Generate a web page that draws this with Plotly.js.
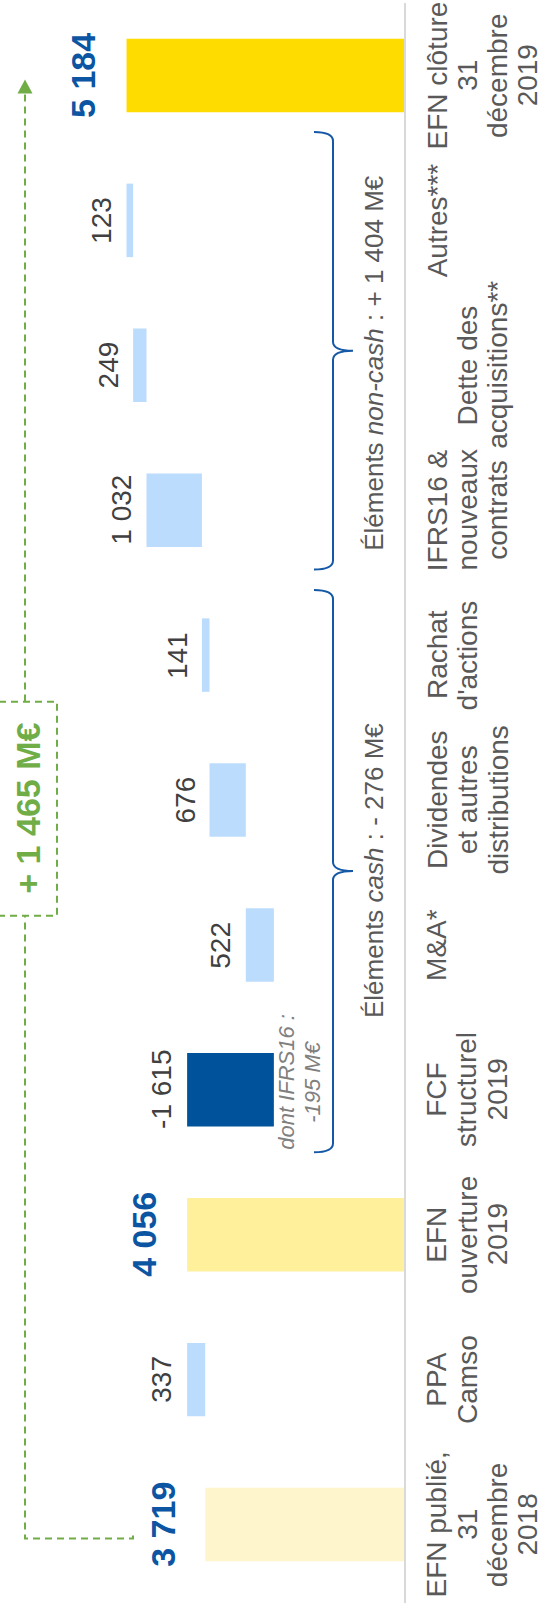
<!DOCTYPE html>
<html>
<head>
<meta charset="utf-8">
<script src="https://cdn.plot.ly/plotly-3.0.1.min.js"></script>
<style>
  html, body { margin: 0; padding: 0; background: #ffffff; }
  #chart { width: 544px; height: 1603px; }
</style>
</head>
<body>
<div id="chart"></div>
<script>
// Bridge of net financial debt (EFN), M€ — categories listed bottom to top,
// one entry per printed line of the category label
const categoryLines = [
  ['EFN publié,', '31', 'décembre', '2018'],
  ['PPA', 'Camso'],
  ['EFN', 'ouverture', '2019'],
  ['FCF', 'structurel', '2019'],
  ['M&A*'],
  ['Dividendes', 'et autres', 'distributions'],
  ['Rachat', "d'actions"],
  ['IFRS16 &', 'nouveaux', 'contrats'],
  ['', 'Dette des', 'acquisitions**'],
  ['Autres***'],
  ['EFN clôture', '31', 'décembre', '2019']
];
const values  = [3719, 337, 4056, -1615, 522, 676, 141, 1032, 249, 123, 5184];
const isTotal = [true, false, true, false, false, false, false, false, false, false, true];
const barColors = ['#fff5cc', '#bcdcfd', '#fff09c', '#00529b', '#bcdcfd', '#bcdcfd',
                   '#bcdcfd', '#bcdcfd', '#bcdcfd', '#bcdcfd', '#ffdc00'];
// Groups bracketed on the chart (indices into the categories)
const cashGroup    = [3, 4, 5, 6];
const nonCashGroup = [7, 8, 9];
const fcfNote = ['dont IFRS16 :', '-195 M€'];

// ---- geometry ----
const PLOT_W = 405;                 // pixel position of the baseline
const PLOT_H = 1594;
const N = values.length;
const PX_PER_CAT = PLOT_H / N;
const px = v => v / PLOT_W;         // pixel -> paper x
const dy = p => p / PX_PER_CAT;     // pixel -> category units

const FONT = 'Liberation Sans, Arial, sans-serif';
const GREEN = '#70ad47';
const BRACE_BLUE = '#1559a6';

function fmt(n, signed) {
  const s = Math.abs(n).toString().replace(/\B(?=(\d{3})+(?!\d))/g, ' ');
  if (n < 0) return (signed ? '- ' : '-') + s;
  return (signed ? '+ ' : '') + s;
}

// Running level for the floating bars
const idx = values.map((_, i) => i);
const bases = [], lengths = [], labelAt = [];
let level = 0;
values.forEach((v, i) => {
  let start, end;
  if (isTotal[i]) { start = 0; end = v; }
  else { start = level; end = level + v; }
  level = end;
  bases.push(Math.min(start, end));
  lengths.push(Math.abs(end - start));
  labelAt.push(Math.max(start, end));
});

const trace = {
  type: 'bar',
  orientation: 'h',
  y: idx,
  x: lengths,
  base: bases,
  width: 0.507,
  marker: { color: barColors, line: { width: 0 } },
  hoverinfo: 'skip'
};

const annotations = [];
const shapes = [];

// value labels
values.forEach((v, i) => {
  annotations.push({
    xref: 'x', yref: 'y', x: labelAt[i], y: i,
    text: isTotal[i] ? '<b>' + fmt(v) + '</b>' : fmt(v),
    textangle: -90, showarrow: false,
    xanchor: 'center', yanchor: 'middle',
    xshift: isTotal[i] ? -43 : -25,
    font: { family: FONT, size: isTotal[i] ? 34 : 28, color: isTotal[i] ? '#0b55a3' : '#404040' }
  });
});

// category labels, one annotation per line
categoryLines.forEach((lines, i) => {
  lines.forEach((t, k) => {
    if (!t) return;
    annotations.push({
      xref: 'paper', yref: 'y', x: 1, y: i,
      text: t, textangle: -90, showarrow: false,
      xanchor: 'center', yanchor: 'middle', borderpad: 0,
      xshift: 32 + 30.3 * k,
      font: { family: FONT, size: 28, color: '#595959' }
    });
  });
});

// baseline
shapes.push({
  type: 'line', xref: 'paper', yref: 'paper',
  x0: 1, x1: 1, y0: -0.006, y1: 1,
  line: { color: '#d9d9d9', width: 2 }
});

// curly braces over the cash / non-cash groups
function bracePath(lo, hi) {
  const xa = px(314), xv = px(333), xt = px(353);
  const r = dy(9);
  const mid = (lo + hi) / 2;
  return `M ${xa},${hi} Q ${xv},${hi} ${xv},${hi - r} L ${xv},${mid + r} ` +
         `Q ${xv},${mid} ${xt},${mid} Q ${xv},${mid} ${xv},${mid - r} ` +
         `L ${xv},${lo + r} Q ${xv},${lo} ${xa},${lo}`;
}
const sum = arr => arr.reduce((a, i) => a + values[i], 0);
const groups = [
  { members: cashGroup,    lo: cashGroup[0] - 0.43,    hi: cashGroup[cashGroup.length - 1] + 0.45,
    label: 'Éléments <i>cash</i> : ', textShift: 0 },
  { members: nonCashGroup, lo: nonCashGroup[0] - 0.41, hi: nonCashGroup[nonCashGroup.length - 1] + 0.61,
    label: 'Éléments <i>non-cash</i> : ', textShift: -12 }
];
groups.forEach(g => {
  shapes.push({
    type: 'path', xref: 'paper', yref: 'y', path: bracePath(g.lo, g.hi),
    line: { color: BRACE_BLUE, width: 2 }
  });
  annotations.push({
    xref: 'paper', yref: 'y', x: px(374), y: (g.lo + g.hi) / 2, yshift: g.textShift,
    text: g.label + fmt(sum(g.members), true) + ' M€',
    textangle: -90, showarrow: false, xanchor: 'center', yanchor: 'middle',
    font: { family: FONT, size: 26, color: '#595959' }
  });
});

// note under the FCF bar
fcfNote.forEach((t, k) => {
  annotations.push({
    xref: 'paper', yref: 'y', x: px(287 + 26 * k), y: 3, yshift: 8,
    text: '<i>' + t + '</i>', textangle: -90, showarrow: false,
    xanchor: 'center', yanchor: 'middle',
    font: { family: FONT, size: 22, color: '#808080' }
  });
});

// overall change arrow, opening to closing
const first = 0, last = N - 1;
const tip = last - dy(4);
const arrowBase = tip - dy(14);
shapes.push({
  type: 'path', xref: 'paper', yref: 'y',
  path: `M ${px(133)},${first - dy(11)} L ${px(133)},${first - dy(14)} L ${px(25)},${first - dy(14)} L ${px(25)},${arrowBase}`,
  line: { color: GREEN, width: 2, dash: '7px,5px' }
});
shapes.push({
  type: 'path', xref: 'paper', yref: 'y',
  path: `M ${px(17.5)},${arrowBase} L ${px(32.5)},${arrowBase} L ${px(25)},${tip} Z`,
  fillcolor: GREEN, line: { width: 0 }
});
const boxMid = 4.94, boxHalf = dy(107);
shapes.push({
  type: 'rect', xref: 'paper', yref: 'y',
  x0: px(-2), x1: px(57), y0: boxMid - boxHalf, y1: boxMid + boxHalf,
  fillcolor: '#ffffff', line: { color: GREEN, width: 2, dash: '7px,5px' }
});
annotations.push({
  xref: 'paper', yref: 'y', x: px(28), y: boxMid,
  text: '<b>' + fmt(values[last] - values[first], true) + ' M€</b>',
  textangle: -90, showarrow: false, xanchor: 'center', yanchor: 'middle',
  font: { family: FONT, size: 34, color: GREEN }
});

const layout = {
  width: 544, height: 1603,
  margin: { l: 0, r: 544 - PLOT_W, t: 3, b: 6, pad: 0 },
  paper_bgcolor: '#ffffff', plot_bgcolor: '#ffffff',
  showlegend: false,
  xaxis: { range: [PLOT_W / 0.05372, 0], visible: false, fixedrange: true },
  yaxis: { range: [-0.5, N - 0.5], showticklabels: false, showgrid: false,
           zeroline: false, showline: false, ticks: '', fixedrange: true },
  shapes: shapes,
  annotations: annotations
};

Plotly.newPlot('chart', [trace], layout, { staticPlot: true, displayModeBar: false });
</script>
</body>
</html>
